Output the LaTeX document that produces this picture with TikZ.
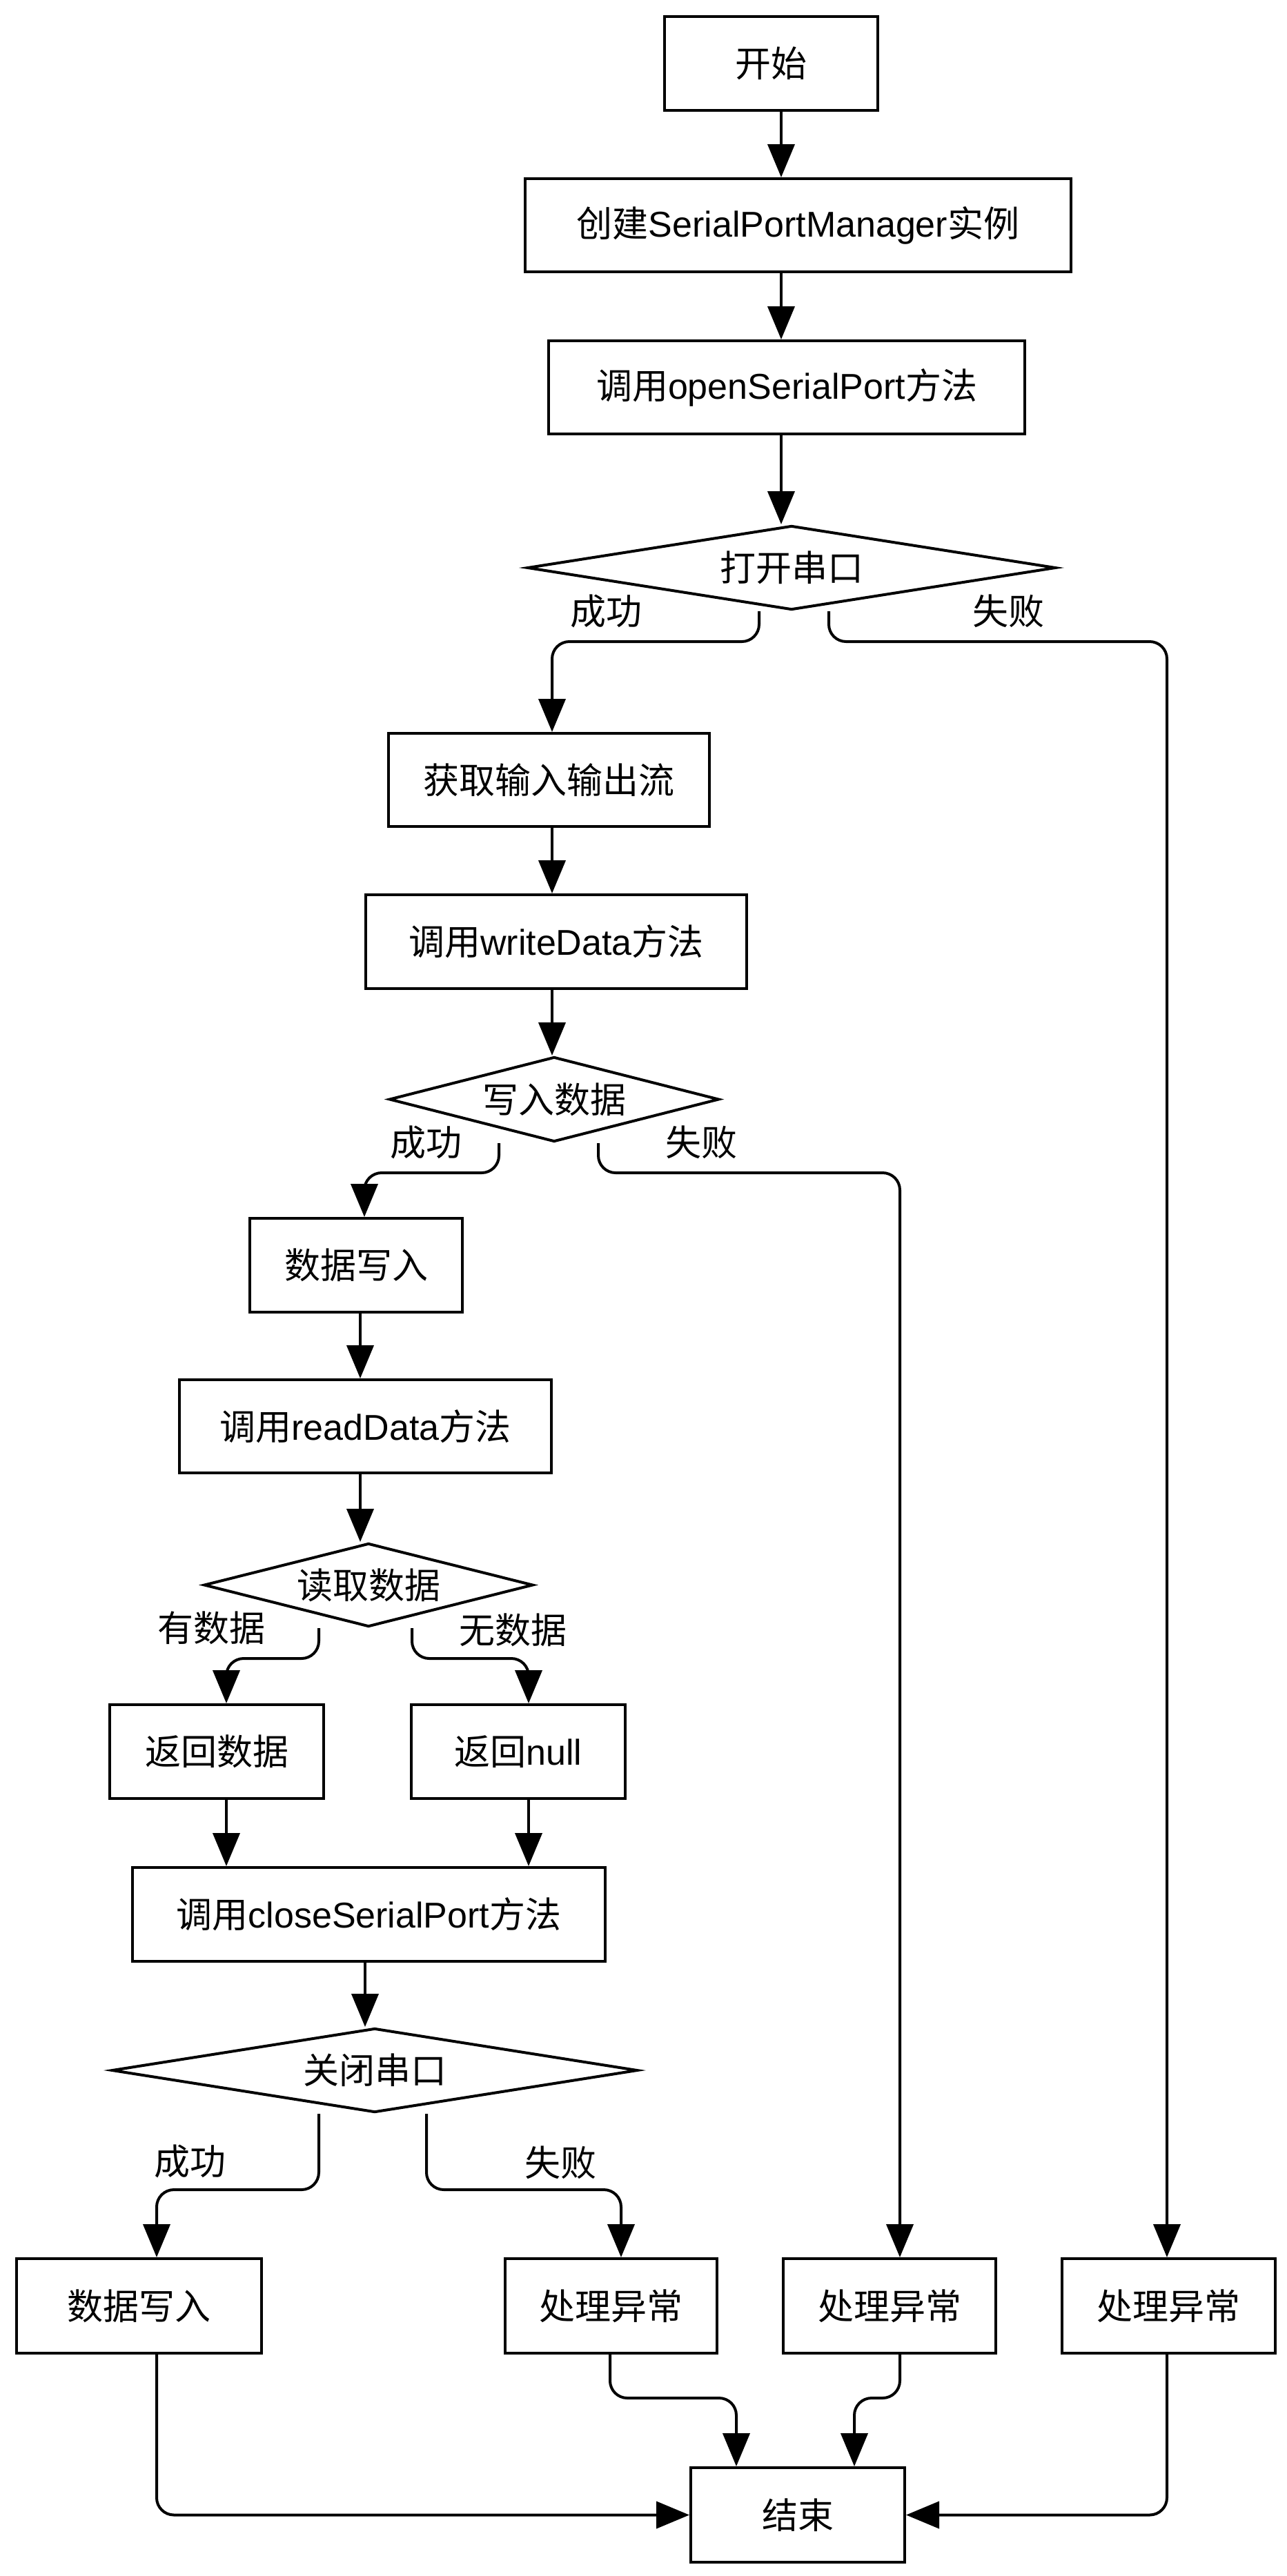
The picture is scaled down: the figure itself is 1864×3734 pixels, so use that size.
\documentclass[tikz,border=0pt]{standalone}
\usepackage{fontspec}
\setmainfont{Liberation Sans}
\newfontfamily\cjk{Noto Sans CJK SC}
\usetikzlibrary{arrows.meta,shapes.geometric}
\newcommand{\zh}[1]{{\cjk #1}}
\begin{document}
\begin{tikzpicture}[x=1pt,y=-1pt,
  txt/.style={font=\fontsize{52}{62}\selectfont},
  box/.style={txt, draw, line width=4pt, rectangle, inner sep=0pt},
  dia/.style={txt, draw, line width=4pt, diamond, inner sep=0pt},
  arr/.style={line width=4pt, -{Triangle[length=48pt,width=39pt]}, rounded corners=25pt},
  lbl/.style={txt, inner sep=0pt}]
\useasboundingbox (0,0) rectangle (1864,3734);
% boxes
\node[box, minimum width=309pt, minimum height=136pt] (start) at (1117,92) {\zh{开始}};
\node[box, minimum width=791pt, minimum height=135pt] (create) at (1156.5,326.5) {\zh{创建}SerialPortManager\zh{实例}};
\node[box, minimum width=690pt, minimum height=135pt] (open) at (1140,561.5) {\zh{调用}openSerialPort\zh{方法}};
\node[dia, aspect=6.3, minimum width=766pt, minimum height=122pt] (D1) at (1147,823) {\zh{打开串口}};
\node[box, minimum width=465pt, minimum height=135pt] (get) at (795.5,1130.5) {\zh{获取输入输出流}};
\node[box, minimum width=552pt, minimum height=136pt] (write) at (806,1365) {\zh{调用}writeData\zh{方法}};
\node[dia, aspect=3.9, minimum width=478pt, minimum height=123pt] (D2) at (803,1593.5) {\zh{写入数据}};
\node[box, minimum width=308pt, minimum height=136pt] (wdata) at (516,1834) {\zh{数据写入}};
\node[box, minimum width=539pt, minimum height=135pt] (read) at (529.5,2067.5) {\zh{调用}readData\zh{方法}};
\node[dia, aspect=3.96, minimum width=477pt, minimum height=121pt] (D3) at (534,2297.5) {\zh{读取数据}};
\node[box, minimum width=310pt, minimum height=136pt] (retdata) at (314,2539) {\zh{返回数据}};
\node[box, minimum width=310pt, minimum height=136pt] (retnull) at (751,2539) {\zh{返回}null};
\node[box, minimum width=685pt, minimum height=136pt] (close) at (534.5,2775) {\zh{调用}closeSerialPort\zh{方法}};
\node[dia, aspect=6.27, minimum width=762pt, minimum height=122pt] (D4) at (543,3001) {\zh{关闭串口}};
\node[box, minimum width=355pt, minimum height=137pt] (w2) at (201.5,3342.5) {\zh{数据写入}};
\node[box, minimum width=307pt, minimum height=137pt] (ex1) at (885.5,3342.5) {\zh{处理异常}};
\node[box, minimum width=308pt, minimum height=137pt] (ex2) at (1289,3342.5) {\zh{处理异常}};
\node[box, minimum width=309pt, minimum height=137pt] (ex3) at (1693.5,3342.5) {\zh{处理异常}};
\node[box, minimum width=310pt, minimum height=137pt] (end) at (1156,3645.5) {\zh{结束}};
% labels
\node[lbl] (l1) at (878,886) {\zh{成功}};
\node[lbl] (l2) at (1461,886) {\zh{失败}};
\node[lbl] (l3) at (617,1656) {\zh{成功}};
\node[lbl] (l4) at (1016,1656) {\zh{失败}};
\node[lbl] (l5) at (306,2360) {\zh{有数据}};
\node[lbl] (l6) at (743,2363) {\zh{无数据}};
\node[lbl] (l7) at (275,3133) {\zh{成功}};
\node[lbl] (l8) at (812,3135) {\zh{失败}};
% columns and rows
\coordinate (xA) at (1132,0);
\coordinate (xB) at (800,0);
\coordinate (xC) at (528,0);
\coordinate (xD) at (522,0);
\coordinate (xE) at (328,0);
\coordinate (xF) at (766,0);
\coordinate (xG) at (529,0);
\coordinate (xH) at (227,0);
\coordinate (xI) at (900,0);
\coordinate (xI2) at (884,0);
\coordinate (xJ) at (1304,0);
\coordinate (xK) at (1691,0);
\coordinate (xL) at (1067,0);
\coordinate (xM) at (1238,0);
\coordinate (d1l) at (1100,0);
\coordinate (d1r) at (1201,0);
\coordinate (d2l) at (723,0);
\coordinate (d2r) at (867,0);
\coordinate (d3l) at (462,0);
\coordinate (d3r) at (597,0);
\coordinate (d4l) at (462,0);
\coordinate (d4r) at (618,0);
\coordinate (r1) at (0,930);
\coordinate (r2) at (0,1700);
\coordinate (r3) at (0,2404);
\coordinate (r4) at (0,3174);
\coordinate (r5) at (0,3476);
% connectors
\draw[arr] (start.south -| xA) -- (create.north -| xA);
\draw[arr] (create.south -| xA) -- (open.north -| xA);
\draw[arr] (open.south -| xA) -- (D1.north -| xA);
\draw[arr] (D1.south -| d1l) -- (d1l |- r1) -| (get.north -| xB);
\draw[arr] (D1.south -| d1r) -- (d1r |- r1) -| (ex3.north -| xK);
\draw[arr] (get.south -| xB) -- (write.north -| xB);
\draw[arr] (write.south -| xB) -- (D2.north -| xB);
\draw[arr] (D2.south -| d2l) -- (d2l |- r2) -| (wdata.north -| xC);
\draw[arr] (D2.south -| d2r) -- (d2r |- r2) -| (ex2.north -| xJ);
\draw[arr] (wdata.south -| xD) -- (read.north -| xD);
\draw[arr] (read.south -| xD) -- (D3.north -| xD);
\draw[arr] (D3.south -| d3l) -- (d3l |- r3) -| (retdata.north -| xE);
\draw[arr] (D3.south -| d3r) -- (d3r |- r3) -| (retnull.north -| xF);
\draw[arr] (retdata.south -| xE) -- (close.north -| xE);
\draw[arr] (retnull.south -| xF) -- (close.north -| xF);
\draw[arr] (close.south -| xG) -- (D4.north -| xG);
\draw[arr] (D4.south -| d4l) -- (d4l |- r4) -| (w2.north -| xH);
\draw[arr] (D4.south -| d4r) -- (d4r |- r4) -| (ex1.north -| xI);
\draw[arr] (w2.south -| xH) |- (end.west);
\draw[arr] (ex1.south -| xI2) -- (xI2 |- r5) -| (end.north -| xL);
\draw[arr] (ex2.south -| xJ) -- (xJ |- r5) -| (end.north -| xM);
\draw[arr] (ex3.south -| xK) |- (end.east);
\end{tikzpicture}
\end{document}
